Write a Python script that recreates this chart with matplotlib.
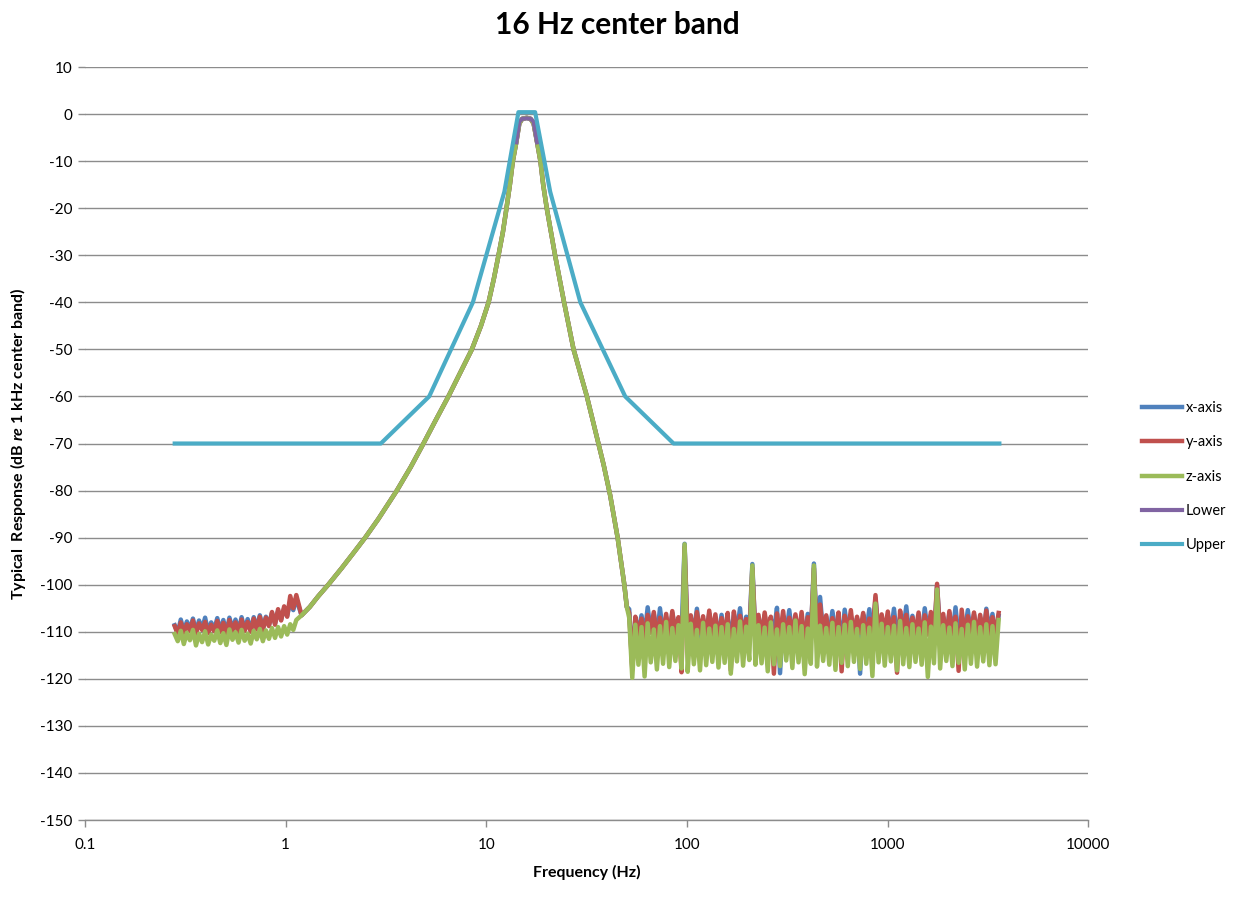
import matplotlib
matplotlib.use('Agg')
from matplotlib import pyplot as plt
from matplotlib.ticker import FixedLocator, NullLocator
import numpy as np

plt.rcParams['font.family'] = ['Lato', 'DejaVu Sans']
plt.rcParams['mathtext.fontset'] = 'custom'
plt.rcParams['mathtext.it'] = 'Lato:italic:bold'
plt.rcParams['mathtext.rm'] = 'Lato:bold'
plt.rcParams['axes.unicode_minus'] = False

# low-frequency noise floor (0.28 .. 1.13 Hz, 41 samples)
low_start, low_stop, low_n = 0.28, 1.13, 41
x_low = [-108.6, -110.2, -107.4, -110.0, -107.8, -109.5, -107.2, -110.1, -107.6, -109.4,
         -107.0, -110.0, -108.0, -109.6, -107.1, -109.8, -107.5, -110.3, -107.0, -109.5,
         -107.4, -109.9, -106.9, -109.6, -107.3, -109.7, -106.9, -109.2, -106.5, -109.3,
         -106.8, -108.6, -106.0, -108.2, -105.6, -107.4, -105.0, -106.6, -103.5, -105.4, -103.0]
y_low = [-108.8, -110.5, -108.0, -110.2, -108.4, -109.8, -107.6, -110.4, -108.2, -109.6,
         -107.9, -110.3, -108.5, -109.9, -107.7, -110.1, -108.1, -110.6, -107.5, -109.7,
         -108.0, -110.2, -107.4, -109.8, -107.9, -110.0, -107.2, -109.5, -106.8, -109.6,
         -107.0, -108.8, -105.8, -108.5, -105.2, -107.6, -104.6, -106.8, -102.4, -105.0, -102.2]
z_low = [-110.5, -112.0, -109.8, -112.6, -110.2, -111.8, -109.6, -112.9, -110.4, -112.2,
         -109.9, -112.7, -110.6, -111.9, -109.7, -112.4, -110.3, -112.8, -109.5, -111.7,
         -110.1, -112.3, -109.6, -111.9, -110.4, -112.5, -109.8, -111.6, -109.4, -112.0,
         -109.7, -111.5, -109.2, -111.3, -109.0, -111.0, -108.8, -110.6, -108.4, -109.6, -107.5]

# filter skirt, common to all three axes
freq_mid = [1.2, 1.32, 1.45, 1.63, 1.9, 2.2, 2.49, 2.9, 3.58, 4.2, 4.86, 5.6, 6.47, 7.4,
            8.47, 9.4, 10.26, 10.9, 11.5, 12.1, 12.6, 13.1, 13.55, 14.1, 14.6, 15.1, 15.9,
            16.6, 17.2, 17.9, 18.6, 19.2, 20.0, 22.0, 24.4, 27.2, 31.7, 36.2, 38.4, 41.4,
            45.1, 48.7, 50.1]
resp_mid = [-106.5, -104.7, -102.5, -100, -96.5, -93, -90, -86, -80, -75, -70, -65, -60, -55,
            -50, -45, -40, -35, -30, -25, -20, -15, -10, -6, -2, -1, -0.8,
            -1, -2, -6, -10, -15, -20, -30, -40, -50, -60, -70, -74.5, -81,
            -90, -100, -104.7]

# high-frequency noise floor (51.5 .. 3570 Hz, 121 samples)
hi_start, hi_stop, hi_n = 51.5, 3570, 121
x_hi = [-105.2, -117.5, -107.0, -110.2, -106.5, -111.0, -104.8, -110.1, -106.2, -111.4,
        -105.0, -110.6, -106.9, -111.2, -106.0, -109.9, -107.4, -110.8, -91.3, -111.5,
        -106.9, -110.1, -105.1, -111.6, -107.3, -110.5, -106.1, -109.8, -107.0, -111.2,
        -106.4, -110.7, -107.1, -111.3, -106.2, -110.0, -105.0, -111.7, -106.8, -110.4,
        -95.6, -111.0, -107.0, -110.3, -106.4, -111.9, -107.2, -110.2, -104.9, -118.8,
        -106.6, -110.5, -105.4, -111.2, -106.9, -110.1, -107.1, -111.4, -106.2, -110.8,
        -95.5, -111.3, -102.6, -110.6, -106.8, -111.1, -105.6, -110.0, -107.0, -111.6,
        -105.3, -110.4, -106.7, -111.0, -107.1, -118.9, -106.3, -110.3, -105.2, -111.5,
        -102.8, -110.1, -107.0, -111.6, -106.5, -110.4, -105.1, -111.3, -106.9, -110.0,
        -104.6, -111.2, -106.6, -110.5, -107.3, -111.0, -105.0, -110.2, -106.4, -111.7,
        -100.2, -110.3, -106.9, -111.1, -106.0, -110.6, -104.8, -111.4, -106.7, -110.1,
        -105.4, -111.0, -106.3, -110.4, -107.0, -111.5, -105.1, -110.2, -106.2, -111.3,
        -106.6]
y_hi = [-106.0, -118.0, -106.8, -110.8, -107.2, -111.3, -106.4, -110.2, -105.8, -111.9,
        -107.0, -110.6, -106.2, -111.5, -105.6, -110.4, -106.9, -118.6, -92.0, -111.2,
        -106.5, -110.9, -105.8, -110.3, -106.7, -111.4, -105.5, -110.7, -106.3, -112.0,
        -107.1, -110.5, -106.0, -118.2, -105.7, -111.0, -106.6, -110.1, -107.3, -111.3,
        -96.5, -110.6, -106.4, -111.8, -105.9, -110.4, -106.8, -118.9, -106.1, -110.9,
        -105.6, -111.5, -107.0, -110.3, -106.3, -111.1, -105.8, -112.2, -106.9, -110.5,
        -96.5, -111.2, -104.2, -110.4, -106.5, -111.7, -107.1, -110.7, -105.9, -118.4,
        -106.6, -110.3, -105.4, -111.4, -106.8, -110.2, -106.0, -111.6, -107.2, -110.8,
        -102.2, -111.3, -106.3, -110.2, -105.7, -111.0, -106.9, -118.7, -105.5, -110.5,
        -106.4, -111.5, -107.0, -110.3, -105.9, -111.8, -106.5, -110.6, -105.8, -111.2,
        -99.8, -110.9, -106.2, -111.9, -105.6, -110.4, -106.8, -118.3, -105.3, -111.1,
        -106.7, -110.2, -105.9, -111.4, -106.4, -110.5, -105.5, -111.7, -106.9, -110.7,
        -106.0]
z_hi = [-107.0, -119.8, -108.5, -117.0, -109.0, -119.5, -108.2, -116.5, -109.5, -118.0,
        -108.8, -116.8, -107.9, -117.5, -109.2, -116.2, -108.6, -117.8, -91.4, -118.5,
        -108.3, -116.9, -109.6, -118.2, -108.1, -117.1, -109.3, -116.4, -108.7, -117.6,
        -109.0, -116.6, -108.4, -118.9, -109.4, -116.3, -107.8, -117.2, -108.9, -116.0,
        -95.9, -117.0, -108.6, -116.7, -109.1, -118.4, -108.0, -116.9, -109.5, -117.3,
        -108.4, -116.1, -109.0, -117.7, -107.6, -116.5, -108.8, -119.0, -109.3, -116.8,
        -95.9, -117.4, -108.7, -116.2, -109.2, -117.0, -108.1, -118.1, -109.0, -116.6,
        -108.5, -117.3, -107.9, -116.4, -109.4, -117.9, -108.6, -116.8, -109.1, -119.4,
        -104.0, -116.5, -108.3, -117.2, -109.0, -116.3, -108.7, -118.2, -107.7, -116.9,
        -109.2, -117.5, -108.4, -116.4, -109.3, -117.0, -108.0, -119.6, -108.9, -116.7,
        -101.0, -117.8, -108.6, -116.2, -109.1, -117.3, -108.2, -116.6, -109.4, -118.0,
        -108.5, -116.8, -107.9, -117.4, -109.0, -116.3, -108.4, -117.1, -108.8, -116.9,
        -107.5]

# tolerance mask
lower_freq = [14.1, 14.6, 15.1, 15.9, 16.6, 17.2, 17.9]
lower_resp = [-6, -1.6, -1.0, -0.9, -1.0, -1.6, -6]
upper_freq = [0.28, 2.98, 5.19, 8.57, 12.3, 14.45, 17.5, 20.8, 29.4, 49.2, 85.7, 3600]
upper_resp = [-70, -70, -60, -40, -16.5, 0.4, 0.4, -16.5, -40, -60, -70, -70]

x_ticks = [0.1, 1, 10, 100, 1000, 10000]
x_tick_labels = ['0.1', '1', '10', '100', '1000', '10000']
y_ticks = list(range(-150, 11, 10))

colors = {'x-axis': '#4F81BD', 'y-axis': '#C0504D', 'z-axis': '#9BBB59',
          'Lower': '#8064A2', 'Upper': '#4BACC6'}
grid_col = '#8C8C8C'


def build_freq():
    # sample frequencies of the measured response
    f_low = np.geomspace(low_start, low_stop, low_n)
    f_hi = np.geomspace(hi_start, hi_stop, hi_n)
    return np.concatenate([f_low, freq_mid, f_hi])


def main():
    freq = build_freq()
    series = {'x-axis': x_low + resp_mid + x_hi,
              'y-axis': y_low + resp_mid + y_hi,
              'z-axis': z_low + resp_mid + z_hi}

    fig = plt.figure(figsize=(12.35, 8.97), dpi=100)
    ax = fig.add_axes([0.0688, 0.0858, 0.8125, 0.8395])

    for name, resp in series.items():
        ax.plot(freq, resp, color=colors[name], lw=3.2, label=name,
                solid_joinstyle='round', zorder=3)
    ax.plot(lower_freq, lower_resp, color=colors['Lower'], lw=3.0, label='Lower', zorder=4)
    ax.plot(upper_freq, upper_resp, color=colors['Upper'], lw=3.0, label='Upper', zorder=5)

    ax.set_xscale('log')
    ax.set_xlim(0.1, 10000)
    ax.set_ylim(-150, 10)
    ax.xaxis.set_major_locator(FixedLocator(x_ticks))
    ax.xaxis.set_minor_locator(NullLocator())
    ax.set_xticklabels(x_tick_labels)
    ax.set_yticks(y_ticks)
    ax.yaxis.grid(True, color=grid_col, lw=1.0)
    ax.set_axisbelow(True)

    for side in ['top', 'right', 'left']:
        ax.spines[side].set_visible(False)
    ax.spines['bottom'].set_color(grid_col)
    ax.spines['bottom'].set_linewidth(1.0)
    ax.tick_params(axis='both', colors=grid_col, labelcolor='black', labelsize=11,
                   length=5, width=1.0)
    ax.tick_params(axis='x', pad=8)
    ax.tick_params(axis='y', pad=4)

    # chart title sits centred on the whole chart area
    fig.text(0.5, 0.972, '16 Hz center band', fontsize=21.5, fontweight='bold',
             ha='center', va='center')
    ax.set_xlabel('Frequency (Hz)', fontsize=11.5, fontweight='bold', labelpad=9)
    ax.set_ylabel(r'Typical  Response (dB $\mathit{re}$ 1 kHz center band)',
                  fontsize=11.5, fontweight='bold', labelpad=9)

    ax.legend(loc='center left', bbox_to_anchor=(1.04, 0.456), frameon=False,
              fontsize=10.5, handlelength=2.75, labelspacing=1.4, handletextpad=0.25)

    fig.savefig('out.png', dpi=100)


if __name__ == '__main__':
    main()
